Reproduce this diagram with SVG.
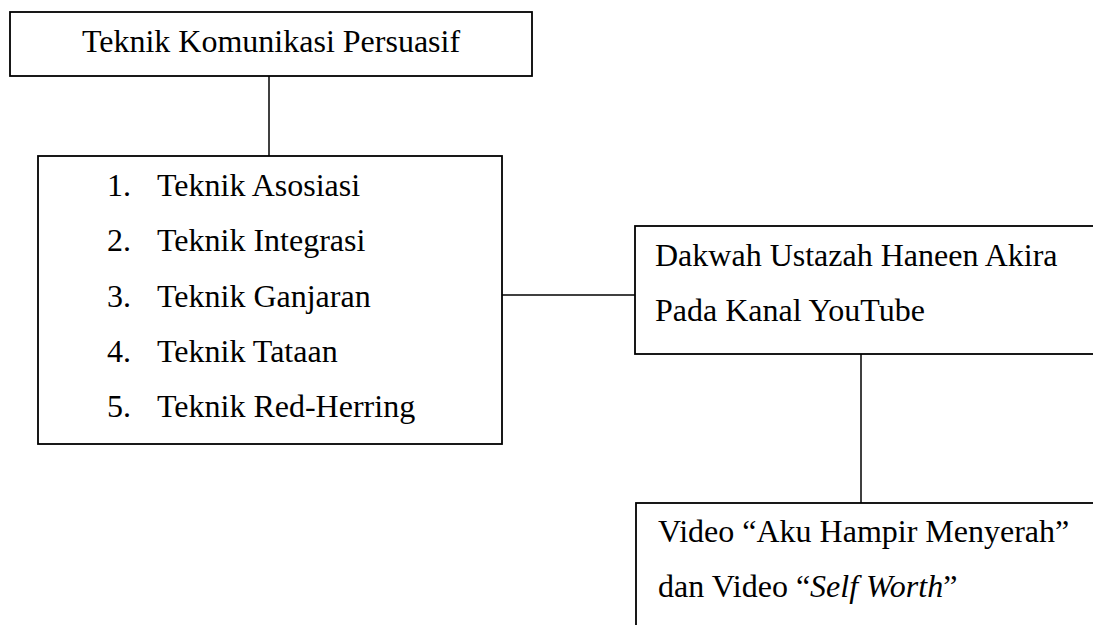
<svg xmlns="http://www.w3.org/2000/svg" width="1093" height="625" viewBox="0 0 1093 625">
<style>
.box{fill:#fff;stroke:#000;stroke-width:1.8}
.ln{stroke:#000;stroke-width:1.5;fill:none}
text{font-family:"Liberation Serif","Times New Roman",serif;font-size:32px;fill:#000}
</style>
<rect width="1093" height="625" fill="#fff"/>
<g id="connectors">
<line class="ln" x1="269" y1="76" x2="269" y2="156"/>
<line class="ln" x1="502" y1="295" x2="635" y2="295"/>
<line class="ln" x1="861" y1="354" x2="861" y2="503"/>
</g>
<g id="node-teknik">
<rect class="box" x="10" y="12" width="522" height="64"/>
<text x="271" y="52" text-anchor="middle">Teknik Komunikasi Persuasif</text>
</g>
<g id="node-list">
<rect class="box" x="38" y="156" width="464" height="288"/>
<text x="107" y="196">1.</text><text x="157" y="196">Teknik Asosiasi</text>
<text x="107" y="251">2.</text><text x="157" y="251">Teknik Integrasi</text>
<text x="107" y="307">3.</text><text x="157" y="307">Teknik Ganjaran</text>
<text x="107" y="362">4.</text><text x="157" y="362">Teknik Tataan</text>
<text x="107" y="417">5.</text><text x="157" y="417">Teknik Red-Herring</text>
</g>
<g id="node-dakwah">
<rect class="box" x="635" y="226" width="500" height="128"/>
<text x="655" y="266">Dakwah Ustazah Haneen Akira</text>
<text x="655" y="321">Pada Kanal YouTube</text>
</g>
<g id="node-video">
<rect class="box" x="636" y="503" width="500" height="200"/>
<text x="658" y="542">Video “Aku Hampir Menyerah”</text>
<text x="658" y="597">dan Video “<tspan font-style="italic">Self Worth</tspan>”</text>
</g>
</svg>
